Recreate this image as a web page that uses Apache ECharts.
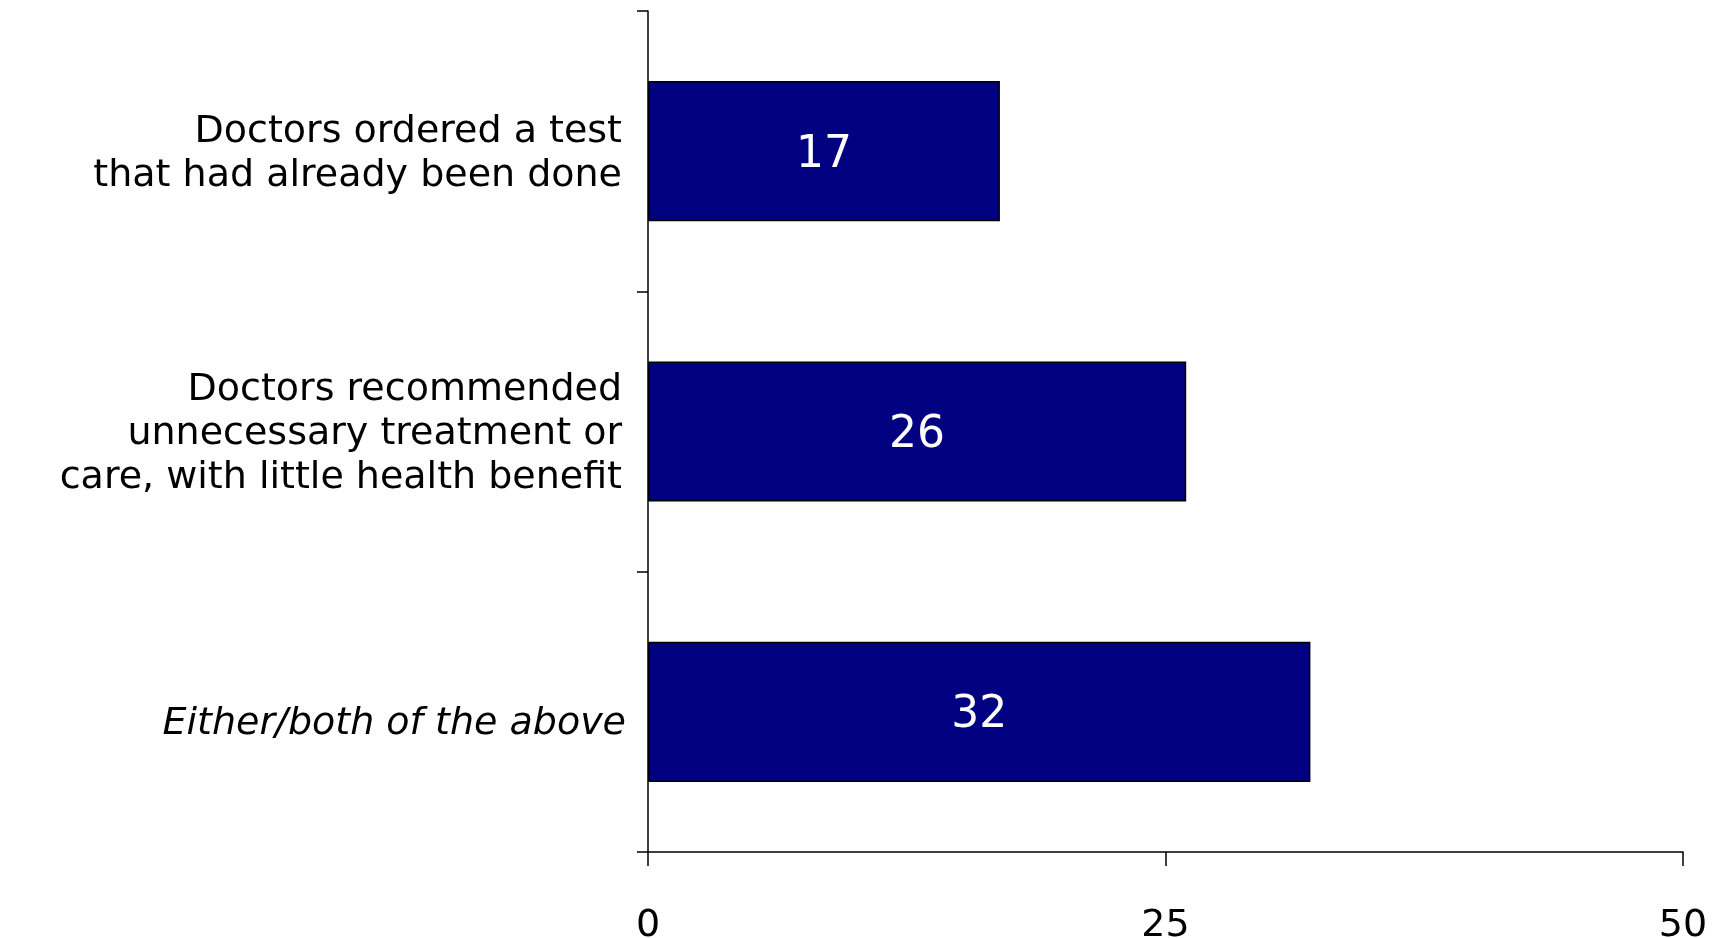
<!DOCTYPE html>
<html>
<head>
<meta charset="utf-8">
<script src="https://cdn.jsdelivr.net/npm/echarts@6/dist/echarts.min.js"></script>
<style>
html,body{margin:0;padding:0;background:#fff;}
#chart{width:1719px;height:938px;}
</style>
</head>
<body>
<div id="chart"></div>
<script>
var categories = [
  "Doctors ordered a test\nthat had already been done",
  "Doctors recommended\nunnecessary treatment or\ncare, with little health benefit",
  "Either/both of the above"
];
var values = [17, 26, 32];
var xTicks = [0, 25, 50];

var chart = echarts.init(document.getElementById('chart'));
var FONT = 'DejaVu Sans';
chart.setOption({
  animation: false,
  backgroundColor: '#ffffff',
  grid: { left: 648, top: 11, right: 36, bottom: 86, containLabel: false, outerBoundsMode: 'none' },
  xAxis: {
    type: 'value',
    min: xTicks[0],
    max: xTicks[xTicks.length - 1],
    interval: xTicks[1] - xTicks[0],
    axisLine: { show: true, lineStyle: { color: '#000', width: 1.5 } },
    axisTick: { show: true, length: 14, lineStyle: { color: '#000', width: 1.5 } },
    splitLine: { show: false },
    axisLabel: { color: '#000', fontFamily: FONT, fontSize: 38, margin: 55 }
  },
  yAxis: {
    type: 'category',
    inverse: true,
    data: categories,
    axisLine: { show: true, lineStyle: { color: '#000', width: 1.5 } },
    axisTick: { show: true, length: 11, alignWithLabel: false, lineStyle: { color: '#000', width: 1.5 } },
    axisLabel: {
      color: '#000', fontFamily: FONT, fontSize: 38, lineHeight: 44, margin: 26, align: 'right',
      padding: [6, 0, 0, 0],
      formatter: function (v, i) { return i === 2 ? '{it|' + v + '}' : v; },
      rich: { it: { fontStyle: 'italic', fontFamily: FONT, fontSize: 38, color: '#000', padding: [18, -4, 0, 0] } }
    }
  },
  series: [{
    type: 'bar',
    data: values,
    barCategoryGap: '50%',
    itemStyle: { color: '#000080', borderColor: '#000', borderWidth: 1.5 },
    label: { show: true, position: 'inside', color: '#fff', fontFamily: FONT, fontSize: 44, offset: [0, 4] }
  }]
});
</script>
</body>
</html>
